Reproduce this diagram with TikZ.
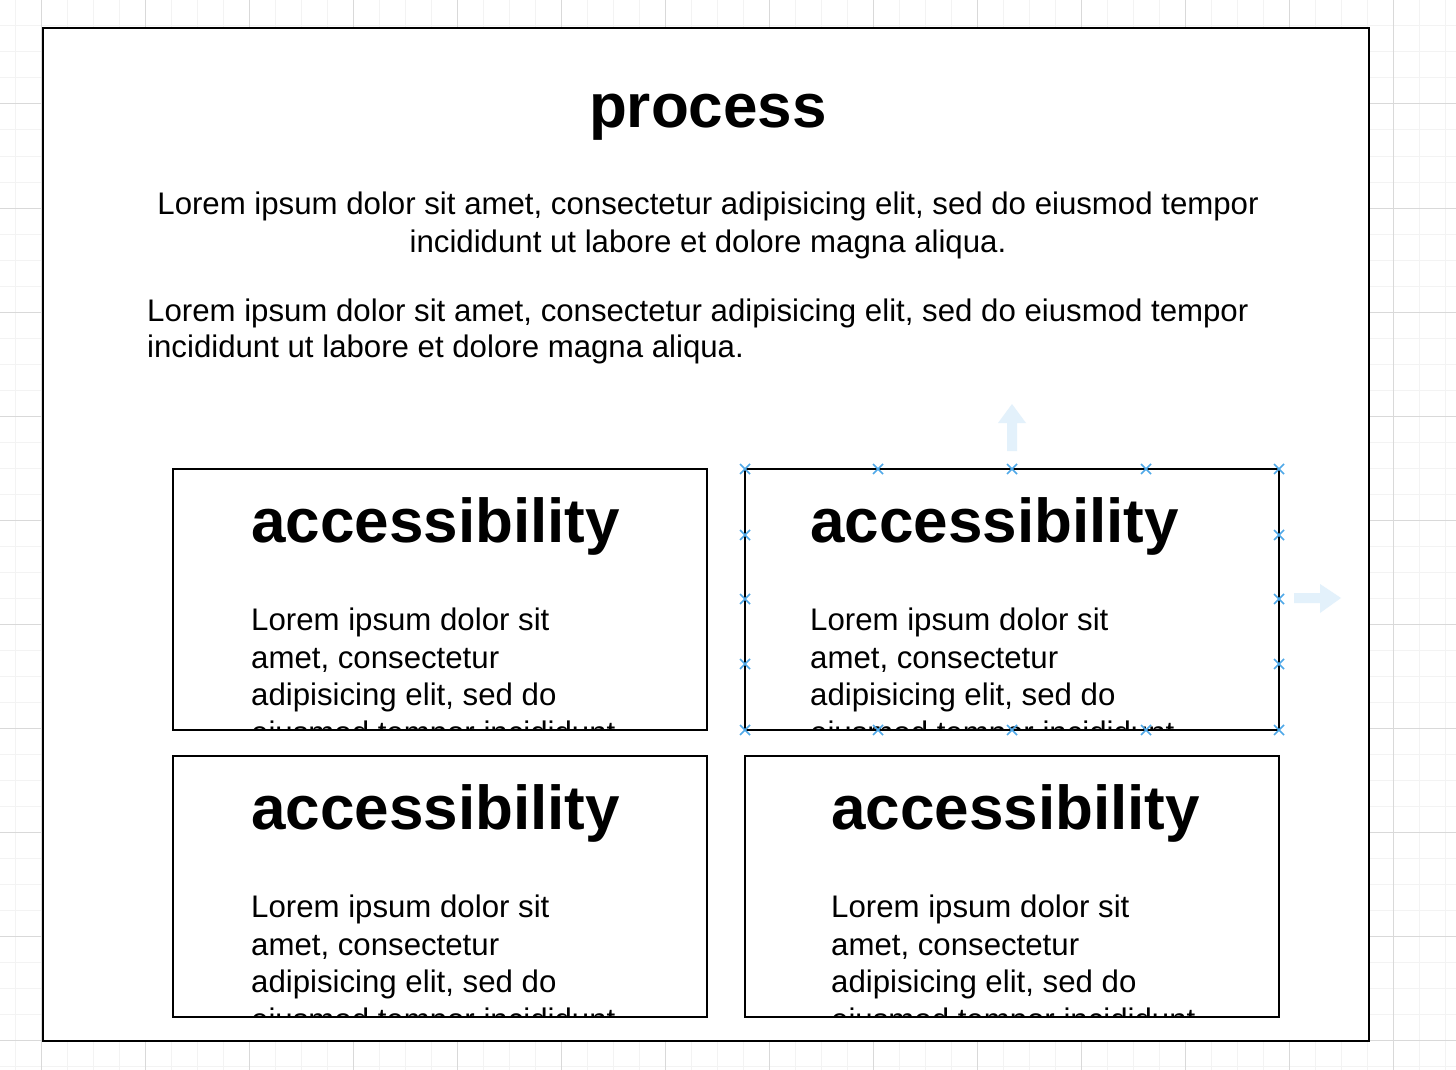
\documentclass[tikz,border=0pt]{standalone}
\usepackage{fontspec}
\setmainfont{Liberation Sans}
\definecolor{gridminor}{HTML}{F3F3F3}
\definecolor{gridmajor}{HTML}{D9D9D9}
\definecolor{handleblue}{HTML}{4FA8E8}
\definecolor{ghostblue}{HTML}{E3F1FB}
\tikzset{
  frame/.style={draw=black, line width=2pt, fill=white},
  card/.style={draw=black, line width=2pt, inner sep=0pt, outer sep=0pt, minimum width=534pt, minimum height=261pt, anchor=north west},
  bigtitle/.style={font=\fontsize{62}{70}\selectfont\bfseries, inner sep=0pt},
  cardtitle/.style={font=\fontsize{62}{70}\selectfont\bfseries, inner sep=0pt, anchor=base west},
  bodytext/.style={font=\fontsize{31.2}{37}\selectfont, inner sep=0pt},
  handle/.style={draw=handleblue, line width=1.6pt},
  ghost/.style={fill=ghostblue, draw=none}
}
\newcommand\accbox[4]{%
  \begin{scope}
    \clip (#2+1,#3+1) rectangle (#2+533,#3+260);
    \node[cardtitle] (#1title) at (#4,#3+73) {accessibility};
    \node[bodytext, anchor=base west] (#1l1) at (#4,#3+161) {Lorem ipsum dolor sit};
    \node[bodytext, anchor=base west] (#1l2) at (#4,#3+199) {amet, consectetur};
    \node[bodytext, anchor=base west] (#1l3) at (#4,#3+236) {adipisicing elit, sed do};
    \node[bodytext, anchor=base west] (#1l4) at (#4,#3+274) {eiusmod tempor incididunt};
  \end{scope}
  \node[card] (#1) at (#2,#3) {};
}
\begin{document}
\begin{tikzpicture}[x=1pt,y=-1pt]
\useasboundingbox (0,0) rectangle (1456,1070);
\fill[white] (0,0) rectangle (1456,1070);
% grid
\foreach \i in {0,...,55} \draw[gridminor, line width=1pt] (15.7+26*\i,0) -- (15.7+26*\i,1070);
\foreach \i in {0,...,41} \draw[gridminor, line width=1pt] (0,26*\i) -- (1456,26*\i);
\foreach \i in {0,...,13} \draw[gridmajor, line width=1pt] (41.7+104*\i,0) -- (41.7+104*\i,1070);
\foreach \i in {0,...,10} \draw[gridmajor, line width=1pt] (0,104*\i) -- (1456,104*\i);
% outer frame
\draw[frame] (43,28) rectangle (1369,1041);
% title and paragraphs
\node[bigtitle, anchor=base] (title) at (708,128) {process};
\node[bodytext, anchor=base] (p1a) at (708,214) {Lorem ipsum dolor sit amet, consectetur adipisicing elit, sed do eiusmod tempor};
\node[bodytext, anchor=base] (p1b) at (708,252) {incididunt ut labore et dolore magna aliqua.};
\node[bodytext, anchor=base west] (p2a) at (147,321) {Lorem ipsum dolor sit amet, consectetur adipisicing elit, sed do eiusmod tempor};
\node[bodytext, anchor=base west] (p2b) at (147,357) {incididunt ut labore et dolore magna aliqua.};
% cards
\accbox{cardA}{173}{469}{251}
\accbox{cardB}{745}{469}{810}
\accbox{cardC}{173}{756}{251}
\accbox{cardD}{745}{756}{831}
% selection ghost arrows
\fill[ghost] (1007,451) -- (1007,423) -- (998,423) -- (1012,404) -- (1026,423) -- (1017,423) -- (1017,451) -- cycle;
\fill[ghost] (1294,593) -- (1320,593) -- (1320,584) -- (1341,598) -- (1320,613) -- (1320,603) -- (1294,603) -- cycle;
% selection handles
\foreach \hx in {745,878,1012,1146,1279} {
  \draw[handle] (\hx-5,464) -- (\hx+5,474) (\hx-5,474) -- (\hx+5,464);
  \draw[handle] (\hx-5,725) -- (\hx+5,735) (\hx-5,735) -- (\hx+5,725);
}
\foreach \hy in {535,599,664} {
  \draw[handle] (740,\hy-5) -- (750,\hy+5) (740,\hy+5) -- (750,\hy-5);
  \draw[handle] (1274,\hy-5) -- (1284,\hy+5) (1274,\hy+5) -- (1284,\hy-5);
}
\end{tikzpicture}
\end{document}
